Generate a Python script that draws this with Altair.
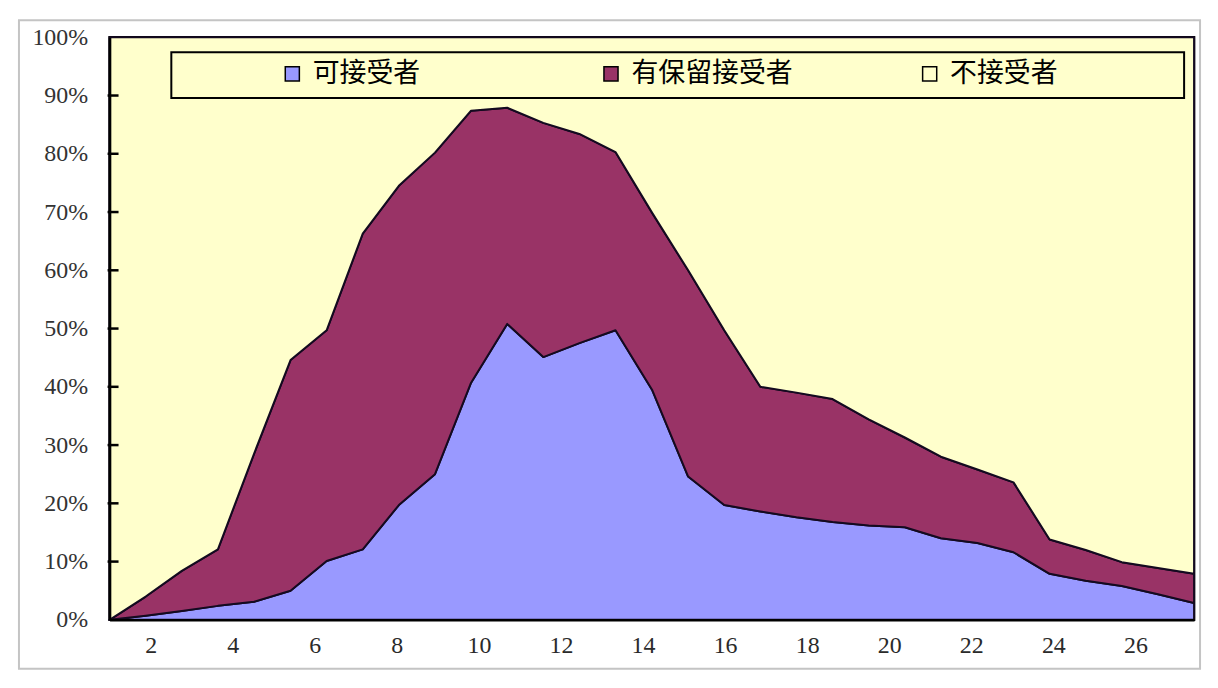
import altair as alt
import pandas as pd

# x positions of the data points, read in units of the x-axis labels
x_pos = [1.00, 1.88, 2.76, 3.64, 4.52, 5.41, 6.29, 7.17, 8.05, 8.93, 9.81,
         10.69, 11.57, 12.45, 13.33, 14.22, 15.10, 15.98, 16.86, 17.74, 18.62,
         19.50, 20.38, 21.26, 22.15, 23.03, 23.91, 24.79, 25.67, 26.55, 27.43]

# percentages (stacked to 100%)
accept = [0, 0.7, 1.5, 2.4, 3.1, 5.0, 10.1, 12.1, 19.7, 25.0, 40.7,
          50.8, 45.1, 47.5, 49.7, 39.5, 24.6, 19.7, 18.6, 17.6, 16.8,
          16.2, 15.9, 14.0, 13.2, 11.6, 7.9, 6.7, 5.8, 4.4, 2.9]
reserved = [0, 3.3, 6.9, 9.7, 25.4, 39.6, 39.6, 54.2, 54.8, 55.2, 46.7,
            37.1, 40.2, 35.9, 30.6, 30.4, 35.4, 30.0, 21.4, 21.4, 21.1,
            18.2, 15.4, 14.0, 12.6, 12.0, 5.9, 5.3, 4.1, 4.5, 5.0]
reject = [100, 96.0, 91.6, 87.9, 71.5, 55.4, 50.3, 33.7, 25.5, 19.8, 12.6,
          12.1, 14.7, 16.6, 19.7, 30.1, 40.0, 50.3, 60.0, 61.0, 62.1,
          65.6, 68.7, 72.0, 74.2, 76.4, 86.2, 88.0, 90.1, 91.1, 92.1]

series_names = ["可接受者", "有保留接受者", "不接受者"]
series_colors = ["#9999FF", "#993366", "#FFFFCC"]
y_ticks = [0, 10, 20, 30, 40, 50, 60, 70, 80, 90, 100]
x_labels = [2, 4, 6, 8, 10, 12, 14, 16, 18, 20, 22, 24, 26]

rows = []
for k, (name, vals) in enumerate(zip(series_names, [accept, reserved, reject])):
    for x, v in zip(x_pos, vals):
        rows.append({"x": x, "series": name, "value": v, "order": k})
df = pd.DataFrame(rows)

x_scale = alt.Scale(domain=[x_pos[0], x_pos[-1]], nice=False, zero=False)
y_scale = alt.Scale(domain=[0, 100], nice=False)

y_axis = alt.Axis(values=y_ticks, title=None, ticks=False, tickSize=0, grid=False,
                  labelExpr="datum.value + '%'", domainColor="black", domainWidth=2.5,
                  labelFont="Liberation Serif", labelFontSize=24, labelColor="#333333",
                  labelPadding=22, zindex=1)

area = alt.Chart(df).mark_area(stroke="#140a20", strokeWidth=2, strokeJoin="round").encode(
    x=alt.X("x:Q", scale=x_scale,
            axis=alt.Axis(values=x_labels, title=None, ticks=False, grid=False,
                          domainColor="black", domainWidth=2.5, labelFont="Liberation Serif",
                          labelFontSize=24, labelColor="#2a2a2a", labelPadding=14,
                          labelFlush=False, zindex=1)),
    y=alt.Y("value:Q", stack="zero", scale=y_scale, axis=y_axis),
    color=alt.Color("series:N", scale=alt.Scale(domain=series_names, range=series_colors),
                    sort=series_names,
                    legend=alt.Legend(orient="none", legendX=170, legendY=23,
                                      direction="horizontal", columns=3, gridAlign="all",
                                      columnPadding=124, title=None, symbolType="square",
                                      symbolSize=200, symbolStrokeColor="black",
                                      symbolStrokeWidth=1.5, symbolOpacity=1,
                                      labelFont="Noto Sans CJK SC", labelFontSize=27,
                                      labelColor="black", labelOffset=7, padding=0,
                                      labelLimit=400)),
    order=alt.Order("order:Q"),
)

tick_df = pd.DataFrame({"value": y_ticks[1:-1]})
ticks = alt.Chart(tick_df).mark_rule(color="black", strokeWidth=2.5).encode(
    y=alt.Y("value:Q", scale=y_scale, axis=y_axis),
    x=alt.value(-2),
    x2=alt.value(9),
)

one = pd.DataFrame({"a": [0]})
legend_box = alt.Chart(one).mark_rect(fill="#FFFFCC", stroke="black", strokeWidth=2).encode(
    x=alt.value(62), x2=alt.value(1079), y=alt.value(15), y2=alt.value(61)
)
frame = alt.Chart(one).mark_rect(fillOpacity=0, stroke="#C4C4C4", strokeWidth=2).encode(
    x=alt.value(-91), x2=alt.value(1095), y=alt.value(-17), y2=alt.value(634)
)

chart = alt.layer(area, ticks, legend_box, frame).properties(
    width=1089, height=585,
    autosize=alt.AutoSizeParams(type="none"),
    padding={"left": 102, "top": 28, "right": 16, "bottom": 56},
    background="white",
).configure_view(stroke="black", strokeWidth=2.5, fill="#FFFFCC")

chart.save("out.html", embed_options={"renderer": "svg", "actions": False})
